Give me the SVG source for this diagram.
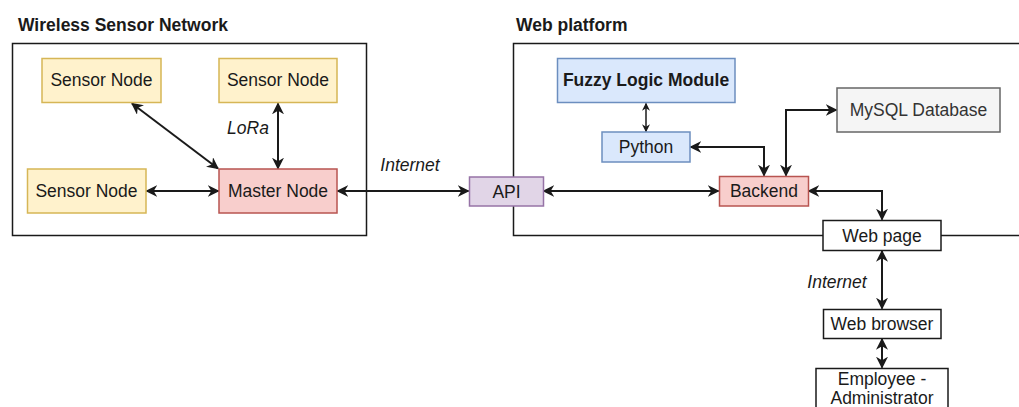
<svg xmlns="http://www.w3.org/2000/svg" width="1019" height="407" viewBox="0 0 1019 407">
<style>
text{font-family:"Liberation Sans",Arial,sans-serif;font-size:17.5px;fill:#1a1a1a;text-anchor:middle}
.title{font-weight:bold;text-anchor:start;font-size:17.5px}
.lbl{font-style:italic}
.cont{fill:none;stroke:#1a1a1a;stroke-width:1.5}
.sensor{fill:#fff2cc;stroke:#d6b656;stroke-width:1.5}
.master{fill:#f8cecc;stroke:#b85450;stroke-width:1.5}
.api{fill:#e1d5e7;stroke:#9673a6;stroke-width:1.5}
.blue{fill:#dae8fc;stroke:#6c8ebf;stroke-width:1.5}
.db{fill:#f5f5f5;stroke:#666666;stroke-width:1.5}
.plain{fill:#ffffff;stroke:#1a1a1a;stroke-width:1.5}
.edge{fill:none;stroke:#1a1a1a;stroke-width:2;marker-start:url(#ah);marker-end:url(#ah)}
.edge.small{stroke-width:1.5;marker-start:url(#ahs);marker-end:url(#ahs)}
</style>
<defs>
<marker id="ah" viewBox="0 0 10 10" refX="9" refY="5" markerWidth="12" markerHeight="12" markerUnits="userSpaceOnUse" orient="auto-start-reverse">
<path d="M0,0 L10,5 L0,10 L3,5 z" fill="#1a1a1a"/>
</marker>
<marker id="ahs" viewBox="0 0 10 10" refX="9" refY="5" markerWidth="8" markerHeight="8" markerUnits="userSpaceOnUse" orient="auto-start-reverse">
<path d="M0,0 L10,5 L0,10 L3,5 z" fill="#1a1a1a"/>
</marker>
</defs>

<g id="wsn-container">
<rect class="cont" x="12.5" y="43.5" width="354" height="192"/>
<text class="title" x="18" y="30.5">Wireless Sensor Network</text>
</g>
<g id="web-container">
<rect class="cont" x="513.5" y="43.5" width="520" height="192"/>
<text class="title" x="516" y="30.5">Web platform</text>
</g>

<g id="connectors">
<line class="edge" x1="132" y1="103.5" x2="218" y2="168.5"/>
<line class="edge" x1="278" y1="103.5" x2="278" y2="168.5"/>
<line class="edge" x1="146.5" y1="191" x2="218.5" y2="191"/>
<line class="edge" x1="337.5" y1="191" x2="468.5" y2="191"/>
<line class="edge" x1="543.5" y1="191" x2="718.5" y2="191"/>
<line class="edge small" x1="646" y1="103.5" x2="646" y2="131.5"/>
<polyline class="edge" points="690.5,147 764,147 764,175.5"/>
<polyline class="edge" points="786,175.5 786,110 836.5,110"/>
<polyline class="edge" points="808.5,191 882,191 882,219.5"/>
<line class="edge" x1="882" y1="251" x2="882" y2="308.5"/>
<line class="edge" x1="882" y1="339" x2="882" y2="367.5"/>
<text class="lbl" x="248" y="134">LoRa</text>
<text class="lbl" x="410" y="171">Internet</text>
<text class="lbl" x="837" y="288">Internet</text>
</g>

<g id="sensor-node-1"><rect class="sensor" x="42" y="58.5" width="119" height="44"/><text x="101.5" y="86">Sensor Node</text></g>
<g id="sensor-node-2"><rect class="sensor" x="219" y="58.5" width="118" height="44"/><text x="278" y="86">Sensor Node</text></g>
<g id="sensor-node-3"><rect class="sensor" x="27.5" y="169" width="118.5" height="44"/><text x="86.5" y="197">Sensor Node</text></g>
<g id="master-node"><rect class="master" x="219" y="169" width="118" height="44"/><text x="278" y="197">Master Node</text></g>
<g id="api"><rect class="api" x="469.5" y="177" width="74" height="29"/><text x="506.5" y="197.5">API</text></g>
<g id="fuzzy"><rect class="blue" x="557.5" y="58.5" width="177.5" height="44"/><text x="646" y="86" style="font-weight:bold">Fuzzy Logic Module</text></g>
<g id="python"><rect class="blue" x="602" y="132" width="88" height="30"/><text x="646" y="153">Python</text></g>
<g id="backend"><rect class="master" x="719.5" y="176.5" width="89" height="29.5"/><text x="764" y="197">Backend</text></g>
<g id="mysql"><rect class="db" x="837" y="88" width="163" height="44"/><text x="918.5" y="116" style="fill:#333333">MySQL Database</text></g>
<g id="web-page"><rect class="plain" x="823" y="220.5" width="118" height="30"/><text x="882" y="241.5">Web page</text></g>
<g id="web-browser"><rect class="plain" x="823.5" y="309.5" width="117.5" height="29"/><text x="882" y="330">Web browser</text></g>
<g id="employee"><rect class="plain" x="816" y="368.5" width="132" height="60"/><text x="882" y="385">Employee -</text><text x="882" y="404">Administrator</text></g>
</svg>
